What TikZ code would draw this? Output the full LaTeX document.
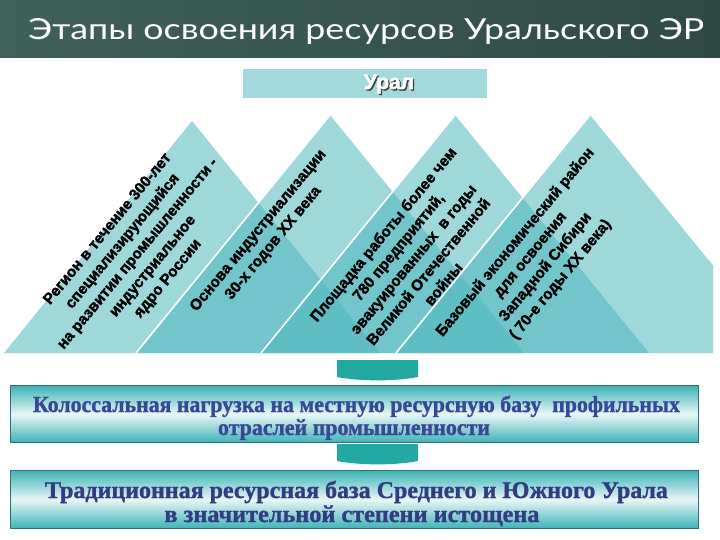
\documentclass[tikz,border=0pt]{standalone}
\usepackage{fontspec}
\usepackage{graphicx}
\setmainfont{Liberation Serif}[BoldFeatures={FakeBold=1.2}]
\newfontfamily\titlefont{Lato}
\newfontfamily\mtfont{Liberation Sans}[BoldFeatures={FakeBold=2}]
\definecolor{titleL}{HTML}{40605A}
\definecolor{titleR}{HTML}{2F4A44}
\definecolor{uralfill}{HTML}{A3D8DC}
\definecolor{mountcol}{HTML}{4FB8BE}
\definecolor{arrowcol}{HTML}{22A9A2}
\definecolor{boxteal}{HTML}{3DB3B6}
\definecolor{boxlight}{HTML}{E8F6F6}
\definecolor{boxborder}{HTML}{2C6E7E}
\definecolor{boxtext}{HTML}{394896}
\tikzset{
  mount/.style={fill=mountcol, fill opacity=0.55},
  ridge/.style={draw=white, line width=1.6pt},
  mtext/.style={rotate=50.5, align=center, inner sep=0pt, text=black,
    font=\mtfont\bfseries\fontsize{15.3}{19.5}\selectfont},
  bigbox/.style={draw=boxborder, line width=1pt, top color=boxteal, bottom color=boxteal,
    middle color=boxlight, minimum width=688pt, anchor=north west, inner sep=0pt},
  boxline/.style={anchor=base, inner sep=0pt, text=boxtext,
    font=\bfseries\fontsize{23}{26}\selectfont},
  downarrow/.style={fill=arrowcol},
  uralfont/.style={inner sep=0pt, font=\mtfont\bfseries\fontsize{21}{24}\selectfont}
}
\begin{document}
\begin{tikzpicture}[x=1pt,y=-1pt]
\useasboundingbox (0,0) rectangle (720,540);
\fill[white] (0,0) rectangle (720,540);
% title bar
\shade[left color=titleL, right color=titleR] (0,0) rectangle (720,58);
\node[anchor=base west, inner sep=0pt, text=white] (title) at (28,40)
  {\resizebox{676pt}{\height}{\titlefont\fontsize{29}{32}\selectfont Этапы освоения ресурсов Уральского ЭР}};
% Ural box
\node[fill=uralfill, minimum width=244pt, minimum height=29pt, anchor=north west, inner sep=0pt] (ural) at (243,69) {};
\node[uralfont, text=black!75] (uralshadow) at (390.4,85.4) {Урал};
\node[uralfont, text=white] (uraltext) at (389,84) {Урал};
% mountains
\fill[mount] (4,353) -- (192,121) -- (380,353) -- cycle;
\fill[mount] (136,353) -- (330,115) -- (524,353) -- cycle;
\draw[ridge] (136,353) -- (330,115);
\fill[mount] (261,353) -- (455,115) -- (649,353) -- cycle;
\draw[ridge] (261,353) -- (455,115);
\fill[mount] (396,353) -- (590,115) -- (713,265.5) -- (713,353) -- cycle;
\draw[ridge] (396,353) -- (590,115);
% mountain texts
\node[mtext] (t1) at (138,254) {Регион в течение 300-лет\\специализирующийся\\на развитии промышленности -\\индустриальное\\ядро России};
\node[mtext] (t2) at (266,237) {Основа индустриализации\\30-х годов XX века};
\node[mtext] (t3) at (413,259) {Площадка работы более чем\\780 предприятий,\\эвакуированных\ \ в годы\\Великой Отечественной\\войны};
\node[mtext] (t4) at (538,261) {Базовый экономический район\\для освоения\\Западной Сибири\\( 70-е годы XX века)};
% arrow 1
\fill[downarrow] (337,360) -- (418,360) -- (418,377) .. controls (395,381.5) and (360,381.5) .. (337,377) -- cycle;
% box 1
\node[bigbox, minimum height=57pt] (b1) at (10,385) {};
\node[boxline] (b1l1) at (356.5,412) {\resizebox{647pt}{\height}{Колоссальная нагрузка на местную ресурсную базу\ \ профильных}};
\node[boxline] (b1l2) at (354,435) {\resizebox{272pt}{\height}{отраслей промышленности}};
% arrow 2
\fill[downarrow] (337,444) -- (418,444) -- (418,461) .. controls (395,465.5) and (360,465.5) .. (337,461) -- cycle;
% box 2
\node[bigbox, minimum height=58pt] (b2) at (10,470) {};
\node[boxline, text=boxtext!85!black, font=\bfseries\fontsize{24}{27}\selectfont] (b2l1) at (356.5,498) {\resizebox{623pt}{\height}{Традиционная ресурсная база Среднего и Южного Урала}};
\node[boxline, text=boxtext!85!black, font=\bfseries\fontsize{24}{27}\selectfont] (b2l2) at (352,522) {\resizebox{375pt}{\height}{в значительной степени истощена}};
\end{tikzpicture}
\end{document}
